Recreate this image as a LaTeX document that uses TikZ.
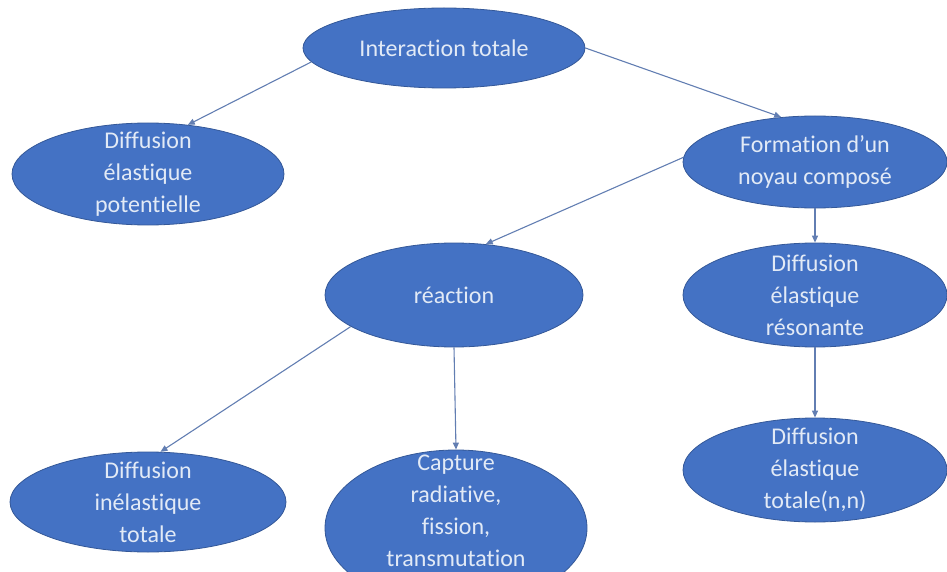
\documentclass[tikz,border=0pt]{standalone}
\usepackage{fontspec}
\setmainfont{Carlito}[RawFeature={-liga;-clig;-calt;-dlig;-hlig}]
\usetikzlibrary{shapes.geometric,arrows.meta}
\definecolor{bleuBulle}{RGB}{68,114,196}
\definecolor{bordBulle}{RGB}{52,88,152}
\definecolor{texteBulle}{RGB}{226,234,246}
\definecolor{grisFleche}{RGB}{98,126,178}
\begin{document}
\begin{tikzpicture}[x=1pt,y=-1pt]
	\tikzstyle{bulle}=[ellipse,fill=bleuBulle,draw=bordBulle,line width=0.8pt,inner sep=0pt,minimum width=264pt,minimum height=104pt]
	\tikzstyle{texte}=[text=texteBulle,align=center,inner sep=0pt,font=\fontsize{24}{32}\selectfont]
	\tikzstyle{fleche}=[draw=grisFleche,line width=1.1pt,-{Triangle[length=7pt,width=6pt]}]
	\useasboundingbox (0,0) rectangle (947,572);
	% niveau 0
	\node[bulle,minimum width=282pt,minimum height=80pt,label={[texte]center:Interaction totale}] (Inter) at (444,48) {};
	% niveau 1
	\node[bulle,minimum width=272pt,minimum height=102pt,label={[texte]center:Diffusion\\élastique\\potentielle}] (Pot) at (148,174) {};
	\node[bulle,minimum height=92pt,label={[texte]center:Formation d’un\\noyau composé}] (Form) at (815,162) {};
	% niveau 2
	\node[bulle,minimum width=258pt,label={[texte]center:réaction}] (Reac) at (454,295) {};
	\node[bulle,label={[texte]center:Diffusion\\élastique\\résonante}] (Reso) at (815,295) {};
	% niveau 3
	\node[bulle,minimum width=276pt,minimum height=100pt,label={[texte]center:Diffusion\\inélastique\\totale}] (Inel) at (148,502) {};
	\node[bulle,minimum width=262pt,minimum height=156pt,label={[texte,yshift=17pt]center:Capture\\radiative,\\fission,\\transmutation}] (Capt) at (456,528) {};
	\node[bulle,label={[texte]center:Diffusion\\élastique\\totale(n,n)}] (Tot) at (815,470) {};
	% fleches
	\draw[fleche] (Inter.186)--(Pot.51) ; \draw[fleche] (Inter.east)--(Form.127) ;
	\draw[fleche] (Form.178)--(Reac.58) ; \draw[fleche] (Form.south)--(Reso.north) ;
	\draw[fleche] (Reso.south)--(Tot.north) ;
	\draw[fleche] (Reac.197)--(Inel.76) ; \draw[fleche] (Reac.south)--(Capt.north) ;
\end{tikzpicture}
\end{document}
